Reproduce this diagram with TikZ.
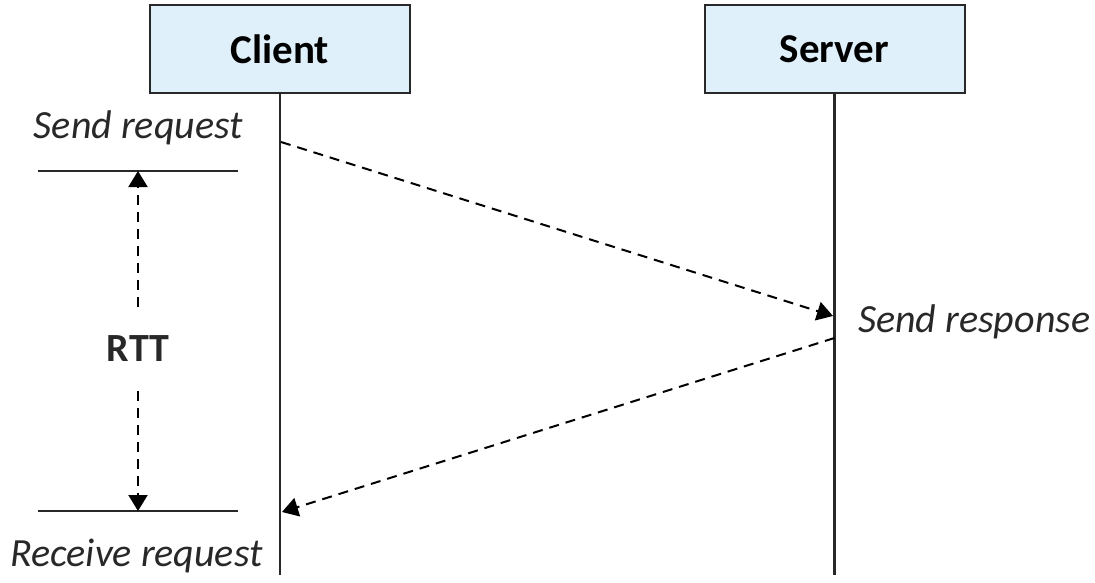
\documentclass[tikz,border=0pt]{standalone}
\usepackage{fontspec}
\setmainfont{Carlito}
\usetikzlibrary{arrows.meta}
\definecolor{boxfill}{RGB}{224,240,251}
\definecolor{ink}{RGB}{40,40,40}
\begin{document}
\begin{tikzpicture}[x=1pt,y=-1pt,
  actor/.style={draw=ink,line width=2pt,fill=boxfill,minimum width=260pt,minimum height=88pt,font=\fontsize{41}{48}\selectfont\bfseries},
  life/.style={line width=2.2pt,ink},
  msg/.style={line width=2pt,dash pattern=on 10pt off 7pt,-{Triangle[length=16pt,width=19pt]}},
  lbl/.style={font=\fontsize{40}{46}\selectfont\itshape,inner sep=0pt,text=ink},
  tick/.style={line width=2.2pt,ink}]
\useasboundingbox (0,0) rectangle (1095,583);
\node[actor] (client) at (280,49) {Client};
\node[actor] (server) at (834.5,49) {Server};
\coordinate (cend) at (280,575);
\coordinate (send) at (834.5,575);
\draw[life] (client.south) -- (cend);
\draw[life] (server.south) -- (send);
\coordinate (req) at (281,142);
\coordinate (resin) at (833,316);
\coordinate (resout) at (834.5,338);
\coordinate (recv) at (282,512);
\draw[msg] (req) -- (resin);
\draw[msg] (resout) -- (recv);
\node[lbl,anchor=east] (sreq) at (243,128) {Send request};
\node[lbl,anchor=west] (sres) at (858,322) {Send response};
\node[lbl,anchor=west] (rreq) at (10,556) {Receive request};
\coordinate (t1) at (38,171);
\coordinate (t2) at (238,171);
\coordinate (b1) at (38,511);
\coordinate (b2) at (238,511);
\draw[tick] (t1) -- (t2);
\draw[tick] (b1) -- (b2);
\node[font=\fontsize{40}{46}\selectfont\bfseries,inner sep=0pt,minimum height=84pt,text=ink] (rtt) at (138,349) {RTT};
\coordinate (ta) at (138,171);
\coordinate (ba) at (138,511);
\draw[msg] (rtt.north) -- (ta);
\draw[msg] (rtt.south) -- (ba);
\end{tikzpicture}
\end{document}
